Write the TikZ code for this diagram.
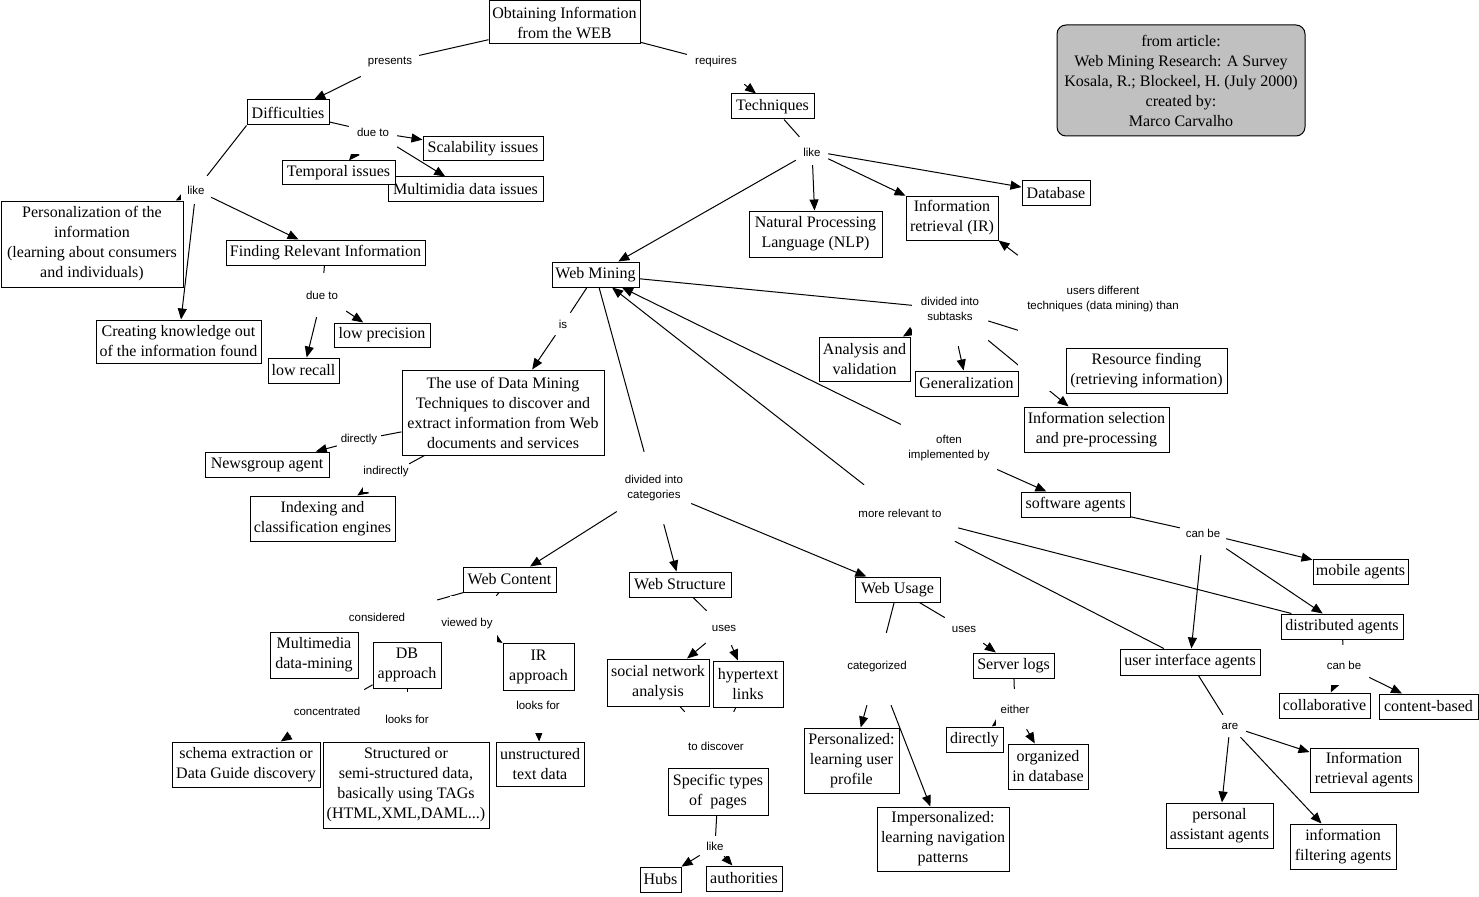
\documentclass[tikz,border=0pt]{standalone}
\usepackage{fontspec}
\setmainfont{Liberation Serif}
\newfontfamily\lsans{Liberation Sans}
\usetikzlibrary{arrows.meta,backgrounds}
\definecolor{cmapgray}{RGB}{192,192,192}
\tikzset{
  cpt/.style={draw, line width=1pt, fill=white, inner sep=0pt, align=center, font=\fontsize{16}{20}\selectfont},
  lbox/.style={draw=none, fill=white, inner sep=0pt},
  ltxt/.style={inner sep=0pt, align=center, font=\lsans\fontsize{11.5}{15.5}\selectfont},
  conn/.style={line width=1pt},
  arr/.style={line width=1pt, -{Triangle[length=11pt,width=9pt]}},
  infobox/.style={draw, line width=1pt, fill=cmapgray, rounded corners=9pt, inner sep=0pt, align=center, font=\fontsize{16}{20}\selectfont}
}
\newcommand{\Cpt}[5]{\node[cpt, minimum width=#3pt, minimum height=#4pt] (#1) at (#2) {#5};}
\newcommand{\Lnk}[6]{\node[lbox, minimum width=#4pt, minimum height=#5pt] (#1) at (#3) {};
  \node[ltxt] (#1t) at (#2) {#6};}
\begin{document}
\begin{tikzpicture}[x=1pt,y=-1pt]
\useasboundingbox (0,0) rectangle (1479,896);
% link labels (opaque boxes)
\Lnk{presents}{390,62}{390,62}{58}{30}{presents}
\Lnk{requires}{716,62}{716,62}{58}{44}{requires}
\Lnk{dueA}{373,132}{373,132}{48}{44}{due to}
\Lnk{likeA}{196,190}{196,190}{30}{28}{like}
\Lnk{dueB}{322,295}{322,295}{48}{44}{due to}
\Lnk{likeB}{812,152}{812,151}{32}{28}{like}
\Lnk{is}{563,324}{563,324}{20}{22}{is}
\Lnk{directly}{359,440}{359,440}{44}{24}{directly}
\Lnk{indirectly}{386,472}{386,476.5}{46}{31}{indirectly}
\Lnk{subtasks}{950,309}{950,309}{76}{74}{divided into\\subtasks}
\Lnk{users}{1103,299}{1104,321}{172}{140}{users different\\techniques (data mining) than}
\Lnk{often}{949,448}{949,448}{96}{50}{often\\implemented by}
\Lnk{categories}{654,488}{654,488}{74}{72}{divided into\\categories}
\Lnk{morerel}{900,513}{900,513}{116}{56}{more relevant to}
\Lnk{canbeA}{1203,533}{1203,533}{46}{44}{can be}
\Lnk{canbeB}{1344,665}{1344,665}{50}{40}{can be}
\Lnk{are}{1230,726}{1230,726}{32}{22}{are}
\Lnk{considered}{377,617}{377,617}{120}{34}{considered}
\Lnk{viewedby}{467,624}{473.5,624}{47}{56}{viewed by}
\Lnk{concentrated}{327,711}{327,711}{74}{48}{concentrated}
\Lnk{looksA}{407,719}{407,719}{60}{54}{looks for}
\Lnk{looksB}{538,705}{538,711}{60}{44}{looks for}
\Lnk{usesA}{724,628}{724,628}{36}{34}{uses}
\Lnk{usesB}{964,629}{964,629}{38}{30}{uses}
\Lnk{categorized}{877,667}{877,669}{80}{72}{categorized}
\Lnk{either}{1015,709}{1015,709}{38}{40}{either}
\Lnk{discover}{716,746}{716,746}{80}{68}{to discover}
\Lnk{likeC}{715,846}{715,846}{30}{20}{like}
% concepts
\Cpt{root}{564.5,22.5}{151}{43}{Obtaining Information\\from the WEB}
\Cpt{diff}{288,112.5}{82}{25}{Difficulties}
\Cpt{tech}{772.5,106.5}{83}{25}{Techniques}
\Cpt{scal}{483,149}{120}{24}{Scalability issues}
\Cpt{multi}{465.5,189}{155}{24}{Multimidia data issues}
\Cpt{temporal}{338.5,173}{113}{24}{Temporal issues}
\Cpt{personal}{92,244}{182}{86}{Personalization of the\\information\\(learning about consumers\\and individuals)}
\Cpt{finding}{325.5,252.5}{199}{25}{Finding Relevant Information}
\Cpt{creating}{178.5,341.5}{165}{43}{Creating knowledge out\\of the information found}
\Cpt{lowprec}{382,335}{96}{24}{low precision}
\Cpt{lowrec}{303.5,370.5}{71}{25}{low recall}
\Cpt{nlp}{815.5,234}{133}{46}{Natural Processing\\Language (NLP)}
\Cpt{ir}{952,218}{92}{44}{Information\\retrieval (IR)}
\Cpt{db}{1056,193}{68}{24}{Database}
\Cpt{wm}{595.5,274.5}{87}{25}{Web Mining}
\Cpt{dm}{503,412.5}{202}{85}{The use of Data Mining\\Techniques to discover and\\extract information from Web\\documents and services}
\Cpt{news}{267,464.5}{124}{25}{Newsgroup agent}
\Cpt{index}{322.5,518.5}{145}{45}{Indexing and\\classification engines}
\Cpt{analysis}{864.5,359}{91}{44}{Analysis and\\validation}
\Cpt{general}{966.5,383.5}{103}{25}{Generalization}
\Cpt{resource}{1146.5,370.5}{161}{45}{Resource finding\\(retrieving information)}
\Cpt{infosel}{1096.5,429.5}{145}{45}{Information selection\\and pre-processing}
\Cpt{soft}{1075.5,504.5}{109}{25}{software agents}
\Cpt{wc}{509.5,579.5}{93}{25}{Web Content}
\Cpt{ws}{680,584.5}{102}{25}{Web Structure}
\Cpt{wu}{897.5,589.5}{85}{25}{Web Usage}
\Cpt{mobile}{1360.5,571.5}{95}{25}{mobile agents}
\Cpt{distr}{1342,626.5}{122}{25}{distributed agents}
\Cpt{ui}{1190,662}{140}{26}{user interface agents}
\Cpt{collab}{1324.5,705.5}{91}{25}{collaborative}
\Cpt{content}{1428.5,706.5}{99}{25}{content-based}
\Cpt{mmdm}{314,655}{88}{46}{Multimedia\\data-mining}
\Cpt{dbap}{407,665}{68}{46}{DB\\approach}
\Cpt{irap}{538.5,666.5}{71}{47}{IR\\approach}
\Cpt{sna}{658,682.5}{102}{47}{social network\\analysis}
\Cpt{hyper}{748,684}{70}{46}{hypertext\\links}
\Cpt{schema}{246,764.5}{148}{45}{schema extraction or\\Data Guide discovery}
\Cpt{struct}{406,785}{166}{86}{Structured or\\semi-structured data,\\basically using TAGs\\(HTML,XML,DAML...)}
\Cpt{unstr}{540,764}{88}{44}{unstructured\\text data}
\Cpt{specific}{718,791.5}{100}{47}{Specific types\\of~ pages}
\Cpt{hubs}{660.5,879.5}{41}{25}{Hubs}
\Cpt{auth}{744,878.5}{76}{25}{authorities}
\Cpt{pers}{851.5,760.5}{95}{65}{Personalized:\\learning user\\profile}
\Cpt{imp}{943,839}{132}{64}{Impersonalized:\\learning navigation\\patterns}
\Cpt{slogs}{1013.5,665.5}{81}{25}{Server logs}
\Cpt{dirc}{974.5,739.5}{57}{25}{directly}
\Cpt{org}{1048,766.5}{80}{45}{organized\\in database}
\Cpt{irag}{1364,770}{108}{44}{Information\\retrieval agents}
\Cpt{pa}{1219.5,825.5}{107}{45}{personal\\assistant agents}
\Cpt{filt}{1343,846.5}{106}{45}{information\\filtering agents}
\node[infobox, minimum width=248pt, minimum height=111pt] (info) at (1181,80.5) {from article:\\Web Mining Research: A Survey\\Kosala, R.; Blockeel, H. (July 2000)\\created by:\\Marco Carvalho};
% connectors
\begin{pgfonlayer}{background}
\fill[white] (0,0) rectangle (1479,896);
\draw[conn] (root) -- (presents);
\draw[conn] (root) -- (requires);
\draw[conn] (diff) -- (dueA);
\draw[conn] (diff.south west) -- (likeA);
\draw[conn] (finding) -- (dueB);
\draw[conn] (tech) -- (likeB);
\draw[conn] (wm) -- (is);
\draw[conn] (dm) -- (directly);
\draw[conn] (dm) -- (indirectly);
\draw[conn] (wm) -- (subtasks);
\draw[conn] (wm) -- (categories);
\draw[conn] (soft) -- (canbeA);
\draw[conn] (distr) -- (canbeB);
\draw[conn] (ui) -- (are);
\draw[conn] (wc) -- (considered);
\draw[conn] (wc) -- (viewedby);
\draw[conn] (dbap) -- (concentrated);
\draw[conn] (dbap) -- (looksA);
\draw[conn] (ws) -- (usesA);
\draw[conn] (wu) -- (usesB);
\draw[conn] (wu) -- (categorized);
\draw[conn] (slogs) -- (either);
\draw[conn] (sna) -- (discover);
\draw[conn] (hyper) -- (discover);
\draw[conn] (specific) -- (likeC);
\draw[conn] (morerel) -- (ui);
\draw[conn] (morerel) -- (distr);
\draw[arr] (presents) -- (diff);
\draw[arr] (requires) -- (tech);
\draw[arr] (dueA) -- (scal);
\draw[arr] (dueA) -- (multi);
\draw[arr] (dueA) -- (temporal);
\draw[arr] (likeA) -- (personal);
\draw[arr] (likeA) -- (creating);
\draw[arr] (likeA) -- (finding);
\draw[arr] (dueB) -- (lowprec);
\draw[arr] (dueB) -- (lowrec);
\draw[arr] (likeB) -- (wm);
\draw[arr] (likeB) -- (nlp);
\draw[arr] (likeB) -- (ir);
\draw[arr] (likeB) -- (db);
\draw[arr] (is) -- (dm);
\draw[arr] (directly) -- (news);
\draw[arr] (indirectly) -- (index);
\draw[arr] (subtasks) -- (analysis);
\draw[arr] (subtasks) -- (general);
\draw[arr] (subtasks) -- (resource);
\draw[arr] (subtasks) -- (infosel);
\draw[arr] (users) -- (ir.south east);
\draw[arr] (often) -- (wm);
\draw[arr] (often) -- (soft);
\draw[arr] (categories) -- (wc);
\draw[arr] (categories) -- (ws);
\draw[arr] (categories) -- (wu);
\draw[arr] (morerel) -- (wm);
\draw[arr] (canbeA) -- (mobile);
\draw[arr] (canbeA) -- (distr);
\draw[arr] (canbeA) -- (ui);
\draw[arr] (canbeB) -- (collab);
\draw[arr] (canbeB) -- (content);
\draw[arr] (are) -- (pa);
\draw[arr] (are) -- (irag);
\draw[arr] (are) -- (filt);
\draw[arr] (viewedby) -- (irap);
\draw[arr] (concentrated) -- (schema);
\draw[arr] (looksB) -- (unstr);
\draw[arr] (usesA) -- (sna);
\draw[arr] (usesA) -- (hyper);
\draw[arr] (usesB) -- (slogs);
\draw[arr] (categorized) -- (pers);
\draw[arr] (categorized) -- (imp);
\draw[arr] (either) -- (dirc);
\draw[arr] (either) -- (org);
\draw[arr] (likeC) -- (hubs);
\draw[arr] (likeC) -- (auth);
\end{pgfonlayer}
\end{tikzpicture}
\end{document}
